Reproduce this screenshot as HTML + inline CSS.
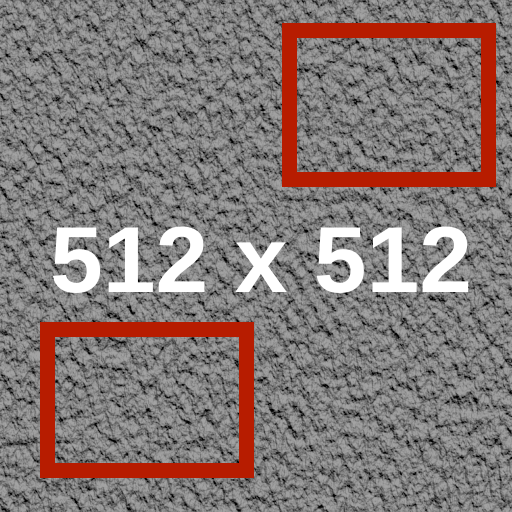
<!DOCTYPE html>
<html><head><meta charset="utf-8"><style>
html,body{margin:0;padding:0;width:512px;height:512px;overflow:hidden;background:#8c8c8c}
</style></head><body>
<svg width="512" height="512" viewBox="0 0 512 512">
<defs>
<filter id="emb" x="0" y="0" width="100%" height="100%">
<feTurbulence type="fractalNoise" baseFrequency="0.12 0.07" numOctaves="4" seed="3" result="n"/>
<feDiffuseLighting in="n" surfaceScale="6" lighting-color="#a4a4a4" diffuseConstant="1">
<feDistantLight azimuth="100" elevation="45"/>
</feDiffuseLighting>
</filter>
</defs>
<rect width="512" height="512" fill="#8c8c8c" filter="url(#emb)"/>
<rect x="289.5" y="30.5" width="199" height="149" fill="none" stroke="#b71c00" stroke-width="15"/>
<rect x="47.5" y="329.5" width="199" height="141" fill="none" stroke="#b71c00" stroke-width="15"/>
<text x="261" y="292" text-anchor="middle" font-family="Liberation Sans, sans-serif" font-weight="bold" font-size="94" fill="#ffffff" textLength="422" lengthAdjust="spacingAndGlyphs">512 x 512</text>
</svg>
</body></html>
